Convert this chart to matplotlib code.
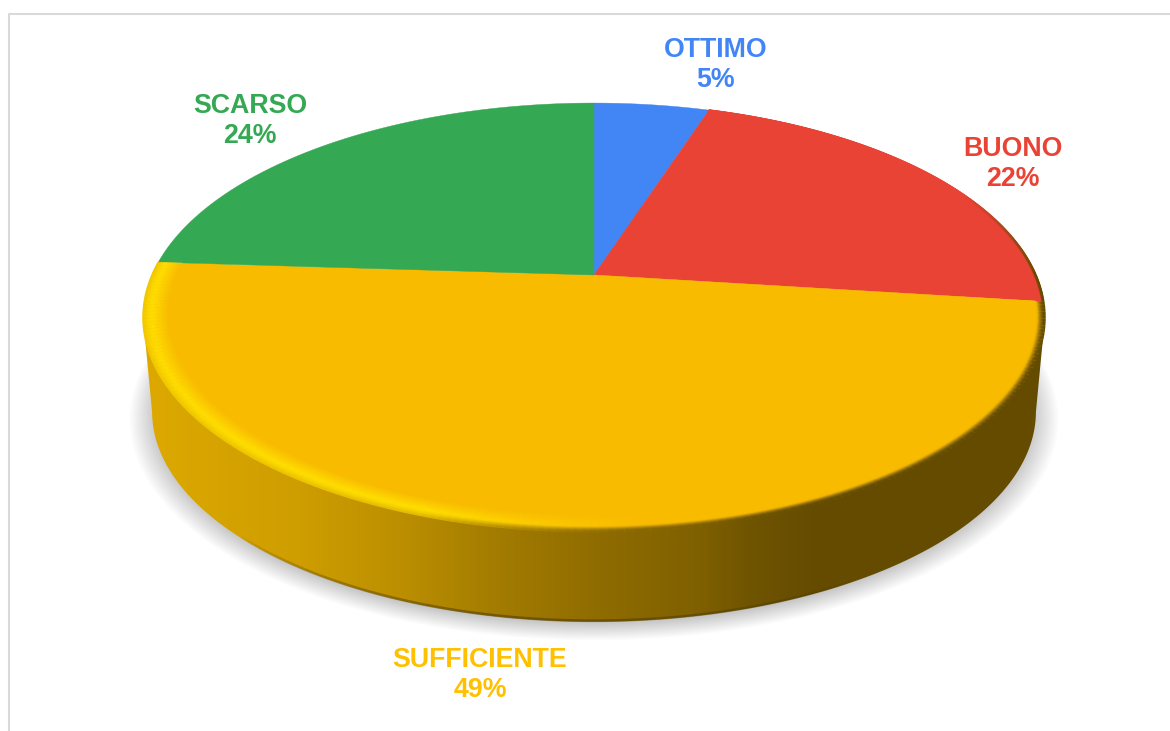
import numpy as np
import matplotlib
matplotlib.use("Agg")
import matplotlib.pyplot as plt
from matplotlib.patches import Polygon
from matplotlib.collections import LineCollection
from matplotlib.colors import to_rgb

plt.rcParams['font.family'] = ['Liberation Sans', 'DejaVu Sans']

# Data
categories = ['OTTIMO', 'BUONO', 'SUFFICIENTE', 'SCARSO']
percents = [5, 22, 49, 24]
slice_colors = ['#4285F4', '#E94335', '#F8BB00', '#34A853']
label_colors = ['#4285F4', '#EA4335', '#FFC000', '#34A853']
label_pos = [(716, 65), (1013, 164), (480, 675), (250, 121)]

# side wall colour going left to right (pixel x, colour)
side_x = [145, 300, 400, 500, 600, 700, 750, 810, 1050]
side_cols = ['#DDA900', '#CE9D00', '#BC8F00', '#A27B00', '#8F6C00', '#7F6000', '#6F5400', '#654C00', '#644B00']

CX, APEX_Y, SX, SY, K = 594, 275, 442, 206, 0.198


def project(theta, r=1.0, scale=1.0, apex_y=APEX_Y):
    # theta clockwise from 12 o'clock, tilted circle with perspective
    u = r * np.sin(theta)
    v = r * np.cos(theta)
    w = 1 + K * v
    return CX + scale * SX * u / w, apex_y - scale * SY * v / w


def side_color(x):
    rgb = np.array([to_rgb(c) for c in side_cols])
    return np.array([np.interp(x, side_x, rgb[:, i]) for i in range(3)]).T


fig = plt.figure(figsize=(11.7, 7.31), dpi=100)
ax = fig.add_axes([0, 0, 1, 1])
ax.set_xlim(0, 1170)
ax.set_ylim(731, 0)
ax.axis('off')

# chart frame
ax.plot([9, 9, 1170], [731, 14, 14], color='#D9D9D9', lw=1.5, zorder=1)

# soft shadow under the pie
angles = np.linspace(0, 2 * np.pi, 361)
for s in np.linspace(1.03, 0.97, 20):
    sx, sy = project(angles, scale=s, apex_y=373 + 3 * (s - 0.97) / 0.065)
    ax.fill(sx, sy, color='#000000', alpha=0.011, lw=0, zorder=2)

# side wall, bottom edge is the same circle a bit smaller and lower
arc = np.radians(np.linspace(101.5, 258.5, 181))
top_x, top_y = project(arc)
bot_x, bot_y = project(arc, scale=0.98, apex_y=370)
side = Polygon(np.r_[np.c_[top_x, top_y], np.c_[bot_x, bot_y][::-1]], closed=True,
               transform=ax.transData, facecolor='none', edgecolor='none')
ax.add_patch(side)
grad_x = np.arange(130, 1060)
img = side_color(grad_x)[np.newaxis, :, :]
im = ax.imshow(img, extent=(130, 1060, 640, 300), aspect='auto', zorder=3)
im.set_clip_path(side)
ax.set_xlim(0, 1170)
ax.set_ylim(731, 0)

# darker line along the foot of the wall, fading out at both ends
foot = np.radians(np.linspace(150, 225, 120))
fx, fy = project(foot, scale=0.98, apex_y=370)
foot_pts = np.c_[fx, fy - 1]
foot_alpha = 0.45 * np.sin(np.linspace(0, np.pi, len(foot) - 1)) ** 0.7
foot_rgba = np.c_[np.tile(to_rgb('#3A2C00'), (len(foot) - 1, 1)), foot_alpha]
ax.add_collection(LineCollection(np.stack([foot_pts[:-1], foot_pts[1:]], axis=1),
                                 colors=foot_rgba, lw=2, capstyle='butt', zorder=4))

# top faces
start = 0.0
edges = []
for pct, col in zip(percents, slice_colors):
    t = np.radians(np.linspace(start, start + pct * 3.6, max(pct * 4, 8)))
    x, y = project(t)
    ax.fill(np.r_[CX, x], np.r_[APEX_Y, y], color=col, lw=0.3, zorder=5)
    edges.append(t)
    start += pct * 3.6


def bevel(t, base, r_in, highlight, fade_from=None):
    # rim of one slice, shaded from the face colour out to the wall colour
    base = np.array(to_rgb(base))
    tm = (t[:-1] + t[1:]) / 2
    xm = project(tm)[0]
    side_c = side_color(xm)
    hi = np.array(to_rgb(highlight))
    # highlight fades out towards the dark right hand side
    mix = np.clip((640 - xm) / 220, 0, 1)[:, None]
    mid = base + (hi - base) * mix
    strength = np.ones((len(tm), 1))
    if fade_from is not None:
        strength = np.clip((tm - fade_from) / np.radians(25), 0, 1)[:, None]
    for r in np.linspace(r_in, 1.0, 22):
        f = (r - r_in) / (1.0 - r_in)
        x, y = project(t, r=r)
        pts = np.c_[x, y]
        segs = np.stack([pts[:-1], pts[1:]], axis=1)
        if f < 0.65:
            c = base + (mid - base) * (f / 0.65)
        else:
            c = mid + (side_c - mid) * ((f - 0.65) / 0.35) ** 1.5 * (1 - 0.6 * mix)
        # on the dark side only the outer part of the rim goes dark
        dark = np.clip((f - 0.72) / 0.25, 0, 1) * (1 - mix)
        c = c + (side_c - c) * dark
        c = base + (c - base) * strength
        ax.add_collection(LineCollection(segs, colors=np.clip(c, 0, 1), lw=1.2,
                                         capstyle='butt', zorder=6))


bevel(edges[2], slice_colors[2], 0.945, '#FFDD00')
bevel(edges[1], slice_colors[1], 0.985, '#E94335', fade_from=np.radians(65))

for lab, pct, col, pos in zip(categories, percents, label_colors, label_pos):
    ax.text(pos[0], pos[1], f'{lab}\n{pct}%', color=col, fontsize=19.3, fontweight='bold',
            ha='center', va='center', linespacing=1.2, zorder=7)

fig.savefig('out.png', dpi=100)
